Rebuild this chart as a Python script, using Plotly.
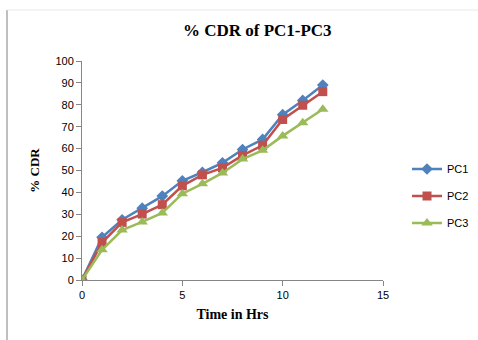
import plotly.graph_objects as go

time_hrs = [0, 1, 2, 3, 4, 5, 6, 7, 8, 9, 10, 11, 12]
pc1 = [0, 19.5, 27.5, 32.8, 38.3, 45.3, 49.2, 53.5, 59.6, 64.2, 75.5, 82.0, 89.0]
pc2 = [0, 17.1, 26.3, 30.1, 34.4, 43.0, 48.0, 51.2, 56.9, 61.5, 73.3, 79.8, 86.0]
pc3 = [0, 13.8, 22.8, 26.5, 30.6, 39.4, 43.9, 48.9, 55.2, 59.2, 65.8, 71.8, 78.0]

series_names = ["PC1", "PC2", "PC3"]
series_values = [pc1, pc2, pc3]
colors = ["#4F81BD", "#C0504D", "#9BBB59"]
symbols = ["diamond", "square", "triangle-up"]
sizes = [9, 9, 10]

fig = go.Figure()
for i, (name, vals) in enumerate(zip(series_names, series_values)):
    fig.add_trace(go.Scatter(
        x=time_hrs, y=vals, name=name, mode="lines+markers",
        line=dict(color=colors[i], width=2.5),
        marker=dict(symbol=symbols[i], size=sizes[i], color=colors[i]),
        legendgroup=name,
    ))

L, R, T, B = 82, 95, 61, 60
W, H = 478, 340
pw, ph = W - L - R, H - T - B

def px_x(p):
    return (p - L) / pw

def px_y(p):
    return (H - B - p) / ph

fig.update_layout(
    width=W, height=H,
    margin=dict(l=L, r=R, t=T, b=B, autoexpand=False),
    paper_bgcolor="white", plot_bgcolor="white",
    title=dict(text="<b>% CDR of PC1-PC3</b>", x=px_x(244), xanchor="center",
               y=1 - 30 / H, yanchor="middle",
               font=dict(family="Liberation Serif", size=17, color="#000")),
    xaxis=dict(range=[0, 15], tickvals=[0, 5, 10, 15], showgrid=False, zeroline=False,
               showline=True, linecolor="#868686", linewidth=1,
               ticks="outside", ticklen=5, tickcolor="#868686",
               tickfont=dict(family="Liberation Sans", size=11, color="#000"),
               title=dict(text="<b>Time in Hrs</b>", standoff=8,
                          font=dict(family="Liberation Serif", size=14, color="#000"))),
    yaxis=dict(range=[0, 100], tickvals=list(range(0, 101, 10)), showgrid=False, zeroline=False,
               showline=True, linecolor="#868686", linewidth=1,
               ticks="outside", ticklen=5, tickcolor="#868686",
               tickfont=dict(family="Liberation Sans", size=11, color="#000"),
               title=dict(text="<b>% CDR</b>", standoff=12,
                          font=dict(family="Liberation Serif", size=13, color="#000"))),
    legend=dict(x=px_x(407), xanchor="left", y=px_y(196), yanchor="middle",
                font=dict(family="Liberation Sans", size=11, color="#000"),
                tracegroupgap=8, bgcolor="rgba(0,0,0,0)"),
    shapes=[
        dict(type="line", xref="paper", yref="paper", x0=px_x(7), x1=px_x(7),
             y0=px_y(10), y1=px_y(340), line=dict(color="#808080", width=1)),
        dict(type="line", xref="paper", yref="paper", x0=px_x(7), x1=px_x(478),
             y0=px_y(10), y1=px_y(10), line=dict(color="#E8E8E8", width=1)),
    ],
)

fig.write_html("out.html")
